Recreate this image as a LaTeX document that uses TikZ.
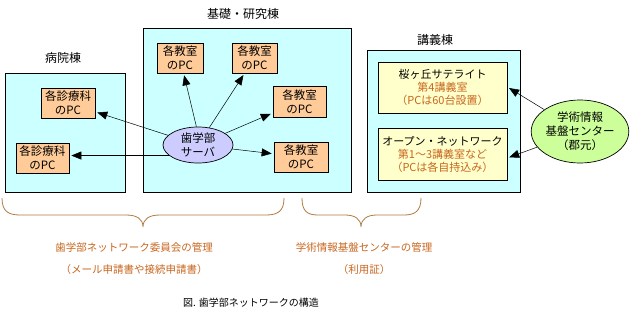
\documentclass[tikz,border=0pt]{standalone}
\usepackage{fontspec}
\setmainfont{Noto Sans CJK JP}
\usetikzlibrary{arrows.meta,shapes.geometric}
\definecolor{bldg}{HTML}{CCFFFF}
\definecolor{pcfill}{HTML}{FFCC99}
\definecolor{srvfill}{HTML}{CCCCFF}
\definecolor{lecfill}{HTML}{FFFFCC}
\definecolor{ctrfill}{HTML}{CCFF99}
\definecolor{ortext}{HTML}{C8661E}
\definecolor{bracec}{HTML}{B07A40}
\tikzset{
  bldgbox/.style={draw=black, fill=bldg, line width=0.8pt},
  pcbox/.style={draw=black, fill=pcfill, line width=0.7pt, align=center,
    font=\fontsize{11.5}{14}\selectfont, inner sep=0pt},
  lecbox/.style={draw=black, fill=lecfill, line width=0.7pt, align=center,
    font=\fontsize{11}{13}\selectfont, inner sep=0pt},
  lbl/.style={font=\fontsize{12}{14}\selectfont},
  arr/.style={-{Triangle[length=10pt,width=8pt]}, line width=0.5pt, shorten >=2pt},
  bracepath/.style={draw=bracec, line width=0.8pt},
  mgmt/.style={text=ortext, font=\fontsize{10.5}{12}\selectfont},
}
\begin{document}
\begin{tikzpicture}[x=1pt,y=-1pt]
\useasboundingbox (0,0) rectangle (642,316);
% buildings
\node[lbl] (lh) at (63,58) {病院棟};
\draw[bldgbox] (5,73) rectangle (125,192);
\node[lbl] (lb) at (243,14) {基礎・研究棟};
\draw[bldgbox] (143,28) rectangle (351,192);
\node[lbl] (ll) at (435,40) {講義棟};
\draw[bldgbox] (367,50) rectangle (520,192);
% hospital PCs
\node[pcbox, minimum width=54pt, minimum height=30pt] (hpc1) at (68,103) {各診療科\\のPC};
\node[pcbox, minimum width=53pt, minimum height=30pt] (hpc2) at (42.5,158) {各診療科\\のPC};
% research PCs
\node[pcbox, minimum width=46pt, minimum height=30pt] (rpc1) at (180,58) {各教室\\のPC};
\node[pcbox, minimum width=45pt, minimum height=30pt] (rpc2) at (254.5,58) {各教室\\のPC};
\node[pcbox, minimum width=53pt, minimum height=31pt] (rpc3) at (299.5,101.5) {各教室\\のPC};
\node[pcbox, minimum width=54pt, minimum height=30pt] (rpc4) at (301,157) {各教室\\のPC};
% server
\node[ellipse, draw=black, fill=srvfill, line width=0.7pt, minimum width=70pt, minimum height=36pt,
  inner sep=0pt, align=center, font=\fontsize{11.5}{14}\selectfont] (srv) at (198,145) {歯学部\\サーバ};
% lecture rooms
\node[lecbox, minimum width=129pt, minimum height=51pt] (lec1) at (442.5,87.5)
  {桜ヶ丘サテライト\\\textcolor{ortext}{第4講義室}\\\textcolor{ortext}{（PCは60台設置）}};
\node[lecbox, minimum width=129pt, minimum height=52pt] (lec2) at (442.5,154)
  {オープン・ネットワーク\\\textcolor{ortext}{第1～3講義室など}\\\textcolor{ortext}{（PCは各自持込み）}};
% center
\node[ellipse, draw=black, fill=ctrfill, line width=0.7pt, minimum width=74pt, minimum height=63pt,
  inner sep=0pt, align=center, font=\fontsize{11.5}{14}\selectfont] (ctr) at (580,131.5)
  {学術情報\\基盤センター\\（郡元）};
% arrows
\draw[arr] (srv) -- (hpc1);
\draw[arr] (srv.200) -- (srv.200 -| hpc2.east);
\draw[arr] (srv.95) -- (rpc1);
\draw[arr] (srv) -- (rpc2);
\draw[arr] (srv) -- (rpc3);
\draw[arr] (srv) -- (rpc4);
\draw[arr] (ctr) -- (lec1.east |- 0,87);
\draw[arr] (ctr) -- (lec2.east |- 0,158);
% braces
\coordinate (b1l) at (2,198);
\coordinate (b1t) at (143,227);
\coordinate (b1r) at (284,198);
\draw[bracepath] (b1l) .. controls (2,211) and (8,215) .. (20,215) -- (126,215)
  .. controls (137,215) and (143,219) .. (b1t)
  .. controls (143,219) and (149,215) .. (160,215) -- (266,215)
  .. controls (278,215) and (284,211) .. (b1r);
\coordinate (b2l) at (302,198);
\coordinate (b2t) at (361,227);
\coordinate (b2r) at (421,198);
\draw[bracepath] (b2l) .. controls (302,211) and (307,215) .. (318,215) -- (345,215)
  .. controls (355,215) and (361,219) .. (b2t)
  .. controls (361,219) and (367,215) .. (377,215) -- (404,215)
  .. controls (415,215) and (421,211) .. (b2r);
% management text
\node[mgmt] (m1) at (134,247) {歯学部ネットワーク委員会の管理};
\node[mgmt] (m1b) at (134,270) {（メール申請書や接続申請書）};
\node[mgmt] (m2) at (364,247) {学術情報基盤センターの管理};
\node[mgmt] (m2b) at (364,270) {（利用証）};
\node[font=\fontsize{10}{12}\selectfont] (cap) at (251,303) {図. 歯学部ネットワークの構造};
\end{tikzpicture}
\end{document}
